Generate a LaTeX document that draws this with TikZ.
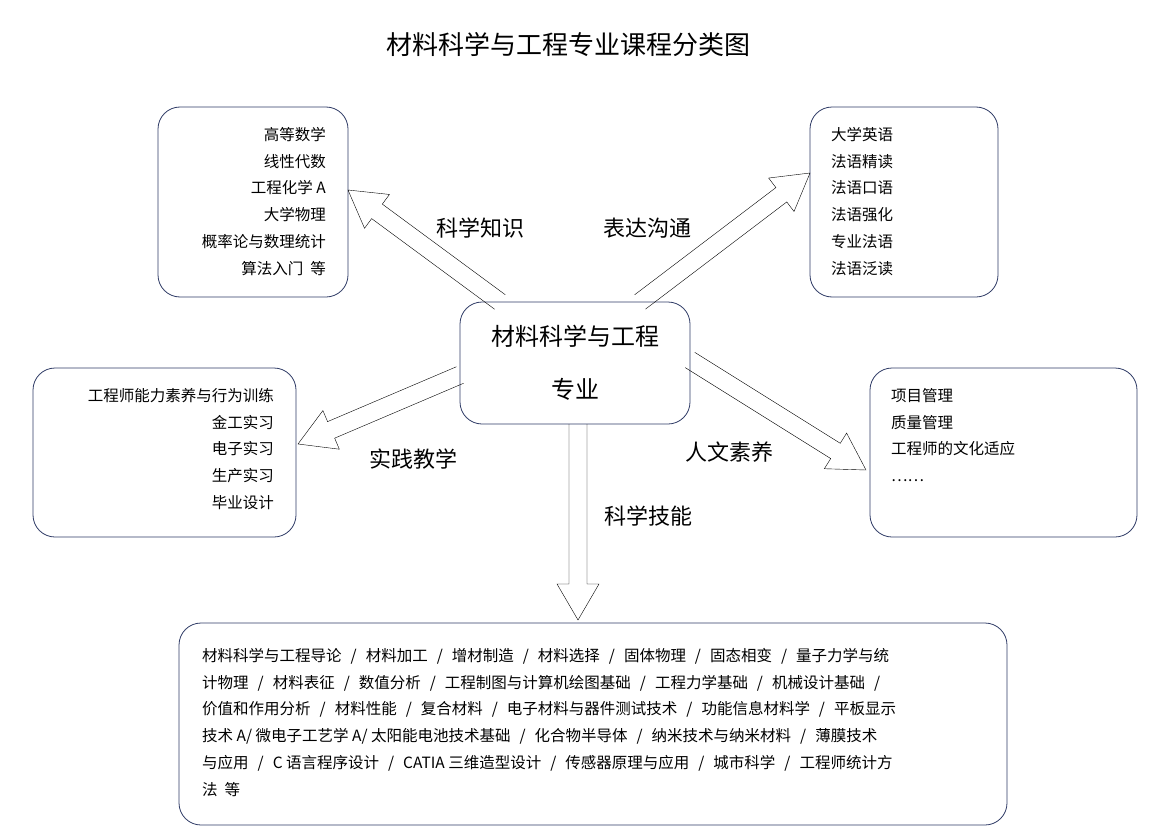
\documentclass[tikz,border=0pt]{standalone}
\usepackage{fontspec}
\setmainfont{Noto Sans CJK SC}
\usetikzlibrary{calc}
\definecolor{boxblue}{HTML}{2F3B66}
\tikzset{
    course/.style={rectangle,rounded corners=22pt,draw=boxblue,thick,fill=white,inner sep=0pt},
    list/.style={font=\fontsize{15.5}{26.8}\selectfont,inner sep=0pt},
    branch/.style={font=\fontsize{22}{24}\selectfont},
}
\newcommand{\courseslash}{\hspace{9pt}/\hspace{9pt}}
% hollow arrow from #1 to #2
\newcommand{\hollowarrow}[2]{%
\draw[thin] let \p1=($(#2)-(#1)$), \n1={atan2(\y1,\x1)}, \n2={veclen(\x1,\y1)} in
    [shift={(#1)}, rotate=\n1] (0pt,-9pt) -- (\n2-36pt,-9pt) -- (\n2-36pt,-21pt) -- (\n2,0pt)
    -- (\n2-36pt,21pt) -- (\n2-36pt,9pt) -- (0pt,9pt);}
\begin{document}
\begin{tikzpicture}[x=1pt,y=-1pt]
\useasboundingbox (0,0) rectangle (1158,832);
\node[font=\fontsize{26}{28}\selectfont] (title) at (568,45) {材料科学与工程专业课程分类图};

% boxes
\node[course,minimum width=190pt,minimum height=190pt] (sci) at (253,202) {};
\node[course,minimum width=188pt,minimum height=190pt] (comm) at (904,202) {};
\node[course,minimum width=230pt,minimum height=122pt] (major) at (575,363) {};
\node[course,minimum width=263pt,minimum height=169pt] (prac) at (164.5,452.5) {};
\node[course,minimum width=267pt,minimum height=169pt] (hum) at (1003.5,452.5) {};
\node[course,minimum width=828pt,minimum height=202pt] (skill) at (593,724) {};

% texts
\node[font=\fontsize{24}{53}\selectfont,align=center] (majortxt) at (major.center) {材料科学与工程\\专业};
\node[list,align=right,anchor=north east] (scitxt) at (326,127) {高等数学\\线性代数\\工程化学 A\\大学物理\\概率论与数理统计\\算法入门\ \ 等};
\node[list,align=left,anchor=north west] (commtxt) at (831,127) {大学英语\\法语精读\\法语口语\\法语强化\\专业法语\\法语泛读};
\node[list,align=right,anchor=north east] (practxt) at (274,388) {工程师能力素养与行为训练\\金工实习\\电子实习\\生产实习\\毕业设计};
\node[list,align=left,anchor=north west] (humtxt) at (891,388) {项目管理\\质量管理\\工程师的文化适应\\……};
\node[list,align=left,anchor=north west] (skilltxt) at (202,648) {材料科学与工程导论\courseslash 材料加工\courseslash 增材制造\courseslash 材料选择\courseslash 固体物理\courseslash 固态相变\courseslash 量子力学与统\\
计物理\courseslash 材料表征\courseslash 数值分析\courseslash 工程制图与计算机绘图基础\courseslash 工程力学基础\courseslash 机械设计基础\courseslash\\
价值和作用分析\courseslash 材料性能\courseslash 复合材料\courseslash 电子材料与器件测试技术\courseslash 功能信息材料学\courseslash 平板显示\\
技术 A/ 微电子工艺学 A/ 太阳能电池技术基础\courseslash 化合物半导体\courseslash 纳米技术与纳米材料\courseslash 薄膜技术\\
与应用\courseslash C 语言程序设计\courseslash CATIA 三维造型设计\courseslash 传感器原理与应用\courseslash 城市科学\courseslash 工程师统计方\\
法\ \ 等};

% arrows
\coordinate (t1) at (500,302); \coordinate (h1) at (348,190);
\coordinate (t2) at (640,302); \coordinate (h2) at (810,173);
\coordinate (t3) at (460,375); \coordinate (h3) at (298,444);
\coordinate (t4) at (690,360); \coordinate (h4) at (866,470);
\coordinate (t5) at (578,424); \coordinate (h5) at (578,620);
\hollowarrow{t1}{h1}
\hollowarrow{t2}{h2}
\hollowarrow{t3}{h3}
\hollowarrow{t4}{h4}
\hollowarrow{t5}{h5}

% branch labels
\node[branch] (l1) at (480,228) {科学知识};
\node[branch] (l2) at (647,228) {表达沟通};
\node[branch] (l3) at (413,459) {实践教学};
\node[branch] (l4) at (729,452) {人文素养};
\node[branch] (l5) at (648,516) {科学技能};
\end{tikzpicture}
\end{document}
